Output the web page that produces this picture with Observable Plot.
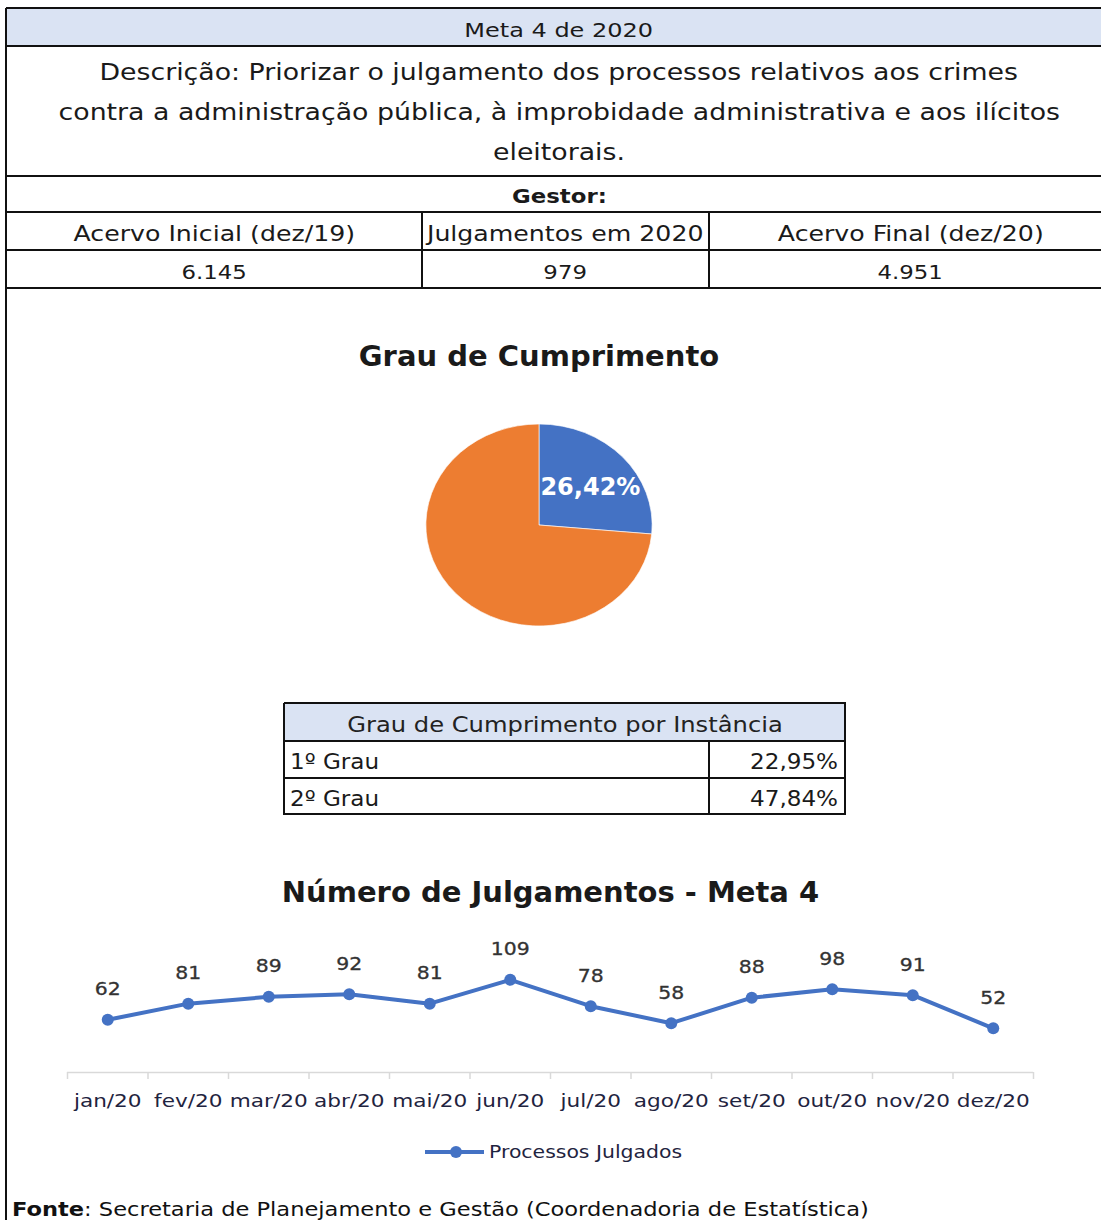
<!DOCTYPE html>
<html><head><meta charset="utf-8">
<script src="https://cdn.jsdelivr.net/npm/d3@7"></script>
<script src="https://cdn.jsdelivr.net/npm/@observablehq/plot@0.6"></script>
<style>
html,body{margin:0;padding:0;background:#fff;}
body{width:1101px;height:1220px;overflow:hidden;position:relative;font-family:"DejaVu Sans",sans-serif;color:#1a1a1a;}
.abs{position:absolute;box-sizing:border-box;}
.cell{position:absolute;box-sizing:border-box;display:flex;align-items:center;justify-content:center;text-align:center;white-space:nowrap;}
.hl{position:absolute;background:#111;height:2px;}
.vl{position:absolute;background:#111;width:2px;}
.sx{display:inline-block;white-space:nowrap;}
</style></head>
<body>
<script>
// ---------- data ----------
const metaTitle = "Meta 4 de 2020";
const descricaoLinhas = [
  "Descrição: Priorizar o julgamento dos processos relativos aos crimes",
  "contra a administração pública, à improbidade administrativa e aos ilícitos",
  "eleitorais."
];
const gestor = "Gestor:";
const headLabels = ["Acervo Inicial (dez/19)", "Julgamentos em 2020", "Acervo Final (dez/20)"];
const headValues = ["6.145", "979", "4.951"];

const pieTitle = "Grau de Cumprimento";
const pieLabels = ["Cumprido", "Restante"];
const pieValues = [26.42, 73.58];
const pieColors = ["#4472c4", "#ed7d31"];

const instTitle = "Grau de Cumprimento por Instância";
const instancias = ["1º Grau", "2º Grau"];
const instValores = ["22,95%", "47,84%"];

const lineTitle = "Número de Julgamentos - Meta 4";
const meses = ["jan/20","fev/20","mar/20","abr/20","mai/20","jun/20","jul/20","ago/20","set/20","out/20","nov/20","dez/20"];
const julgados = [62, 81, 89, 92, 81, 109, 78, 58, 88, 98, 91, 52];
const serieNome = "Processos Julgados";
const fonteRotulo = "Fonte";
const fonte = "Secretaria de Planejamento e Gestão (Coordenadoria de Estatística)";

// ---------- layout helpers ----------
const root = document.body;
function el(tag, cls, style, html){const e=document.createElement(tag); if(cls) e.className=cls; Object.assign(e.style, style||{}); if(html!=null) e.innerHTML=html; root.appendChild(e); return e;}
function hline(x,y,w,t){el("div","hl",{left:x+"px",top:(y-1)+"px",width:w+"px",height:(t||2)+"px"});}
function vline(x,y,h,t){el("div","vl",{left:(x-1)+"px",top:y+"px",height:h+"px",width:(t||2)+"px"});}
function sx(html,k,origin){return `<span class="sx" style="transform:scaleX(${k});transform-origin:${origin||"center"}">${html}</span>`;}
function stretchSvgText(svg,k){
  svg.querySelectorAll("text").forEach(t=>{
    const x = +(t.getAttribute("x")||0);
    const tr = t.getAttribute("transform")||"";
    t.setAttribute("transform", `${tr} translate(${x} 0) scale(${k} 1) translate(${-x} 0)`);
  });
}

const RIGHT = 1112;
const K = 1.2;
// header block
el("div","abs",{left:"6px",top:"8px",width:(RIGHT-6)+"px",height:"38px",background:"#dae3f3"});
el("div","cell",{left:"6px",top:"11px",width:(RIGHT-6)+"px",height:"38px",fontSize:"20px"},sx(metaTitle,K));
descricaoLinhas.forEach((l,i)=>{
  el("div","cell",{left:"6px",top:(52+i*40)+"px",width:(RIGHT-6)+"px",height:"40px",fontSize:"22.3px"},sx(l,K));
});
el("div","cell",{left:"6px",top:"178px",width:(RIGHT-6)+"px",height:"36px",fontSize:"19px",fontWeight:"bold"},sx(gestor,K));
const cols=[6,422,709,RIGHT];
headLabels.forEach((t,i)=>{
  el("div","cell",{left:cols[i]+"px",top:"215px",width:(cols[i+1]-cols[i])+"px",height:"38px",fontSize:"21px"},sx(t,K));
  el("div","cell",{left:cols[i]+"px",top:"253px",width:(cols[i+1]-cols[i])+"px",height:"38px",fontSize:"19px"},sx(headValues[i],K));
});
[8,46,176,212,250,288].forEach(y=>hline(6,y,RIGHT-6));
vline(6,8,1212);
vline(422,212,76); vline(709,212,76);

// pie title
el("div","cell",{left:"0px",top:"334px",width:"1078px",height:"44px",fontSize:"29px",fontWeight:"bold"},pieTitle);

// pie chart via Plot custom render mark
const pieData = pieLabels.map((l,i)=>({label:l, value:pieValues[i], color:pieColors[i]}));
const piePlot = Plot.plot({
  width:1101, height:280, margin:0,
  x:{domain:[0,1101], axis:null}, y:{domain:[0,280], axis:null},
  style:{background:"transparent", overflow:"visible"},
  marks:[
    (index, scales, values, dims) => {
      const cx = scales.x(539), cy = scales.y(140);
      const R = 101, sxk = 1.12;
      const arcs = d3.pie().sort(null).value(d=>d.value)(pieData);
      const arc = d3.arc().innerRadius(0).outerRadius(R);
      const lab = d3.arc().innerRadius(0).outerRadius(R*1.16);
      const g = d3.create("svg:g").attr("transform",`translate(${cx},${cy})`);
      g.append("g").attr("transform",`scale(${sxk},1)`).selectAll("path").data(arcs).join("path")
        .attr("d",arc).attr("fill",d=>d.data.color).attr("stroke","#fff").attr("stroke-width",0.6);
      const a = arcs[0]; const c = lab.centroid(a);
      g.append("text").attr("x",c[0]*sxk+3).attr("y",c[1]+2).attr("text-anchor","middle").attr("dominant-baseline","central")
        .attr("fill","#fff").attr("font-weight","bold").attr("font-size",24).attr("font-family","DejaVu Sans")
        .text(a.data.value.toFixed(2).replace(".",",")+"%");
      return g.node();
    }
  ]
});
const pieWrap = el("div","abs",{left:"0px",top:"385px",width:"1101px",height:"280px"});
pieWrap.appendChild(piePlot);

// instance table
const KT = 1.1;
el("div","abs",{left:"284px",top:"703px",width:"561px",height:"38px",background:"#dae3f3"});
el("div","cell",{left:"284px",top:"705px",width:"561px",height:"38px",fontSize:"22px",color:"#222"},sx(instTitle,KT));
instancias.forEach((t,i)=>{
  const top = 743 + i*37;
  el("div","cell",{left:"290px",top:top+"px",width:"400px",height:"37px",fontSize:"21px",justifyContent:"flex-start"},sx(t,KT,"left"));
  el("div","cell",{left:"700px",top:top+"px",width:"138px",height:"37px",fontSize:"21px",justifyContent:"flex-end"},sx(instValores[i],KT,"right"));
});
[703,741,778,814].forEach(y=>hline(284,y,562));
vline(284,703,112); vline(845,703,112); vline(709,741,74);

// line chart title
el("div","cell",{left:"0px",top:"870px",width:"1101px",height:"44px",fontSize:"29px",fontWeight:"bold"},lineTitle);

// line chart
const lineData = meses.map((m,i)=>({i:i+1, mes:m, v:julgados[i]}));
const linePlot = Plot.plot({
  width:1101, height:190, marginLeft:67, marginRight:68, marginTop:40, marginBottom:48,
  x:{type:"linear", domain:[0.5,12.5], axis:null},
  y:{domain:[0,120], axis:null},
  style:{background:"transparent", overflow:"visible", fontFamily:"DejaVu Sans"},
  marks:[
    Plot.ruleY([0],{stroke:"#d9d9d9", strokeWidth:1.5}),
    Plot.axisX(d3.range(0.5,13,1),{tickSize:7, tickFormat:()=>"", label:null, stroke:"#d9d9d9", strokeWidth:1.5}),
    Plot.axisX(d3.range(1,13),{tickSize:0, tickPadding:22, label:null, tickFormat:d=>meses[d-1], fontSize:18, fill:"#1f2440"}),
    Plot.line(lineData,{x:"i", y:"v", stroke:"#4472c4", strokeWidth:4}),
    Plot.dot(lineData,{x:"i", y:"v", r:6, fill:"#4472c4", stroke:"none"}),
    Plot.text(lineData,{x:"i", y:"v", text:d=>String(d.v), dy:-30, fontSize:17, fill:"#333", stroke:"#333", strokeWidth:0.3})
  ]
});
stretchSvgText(linePlot, K);
const lineWrap = el("div","abs",{left:"0px",top:"930px",width:"1101px",height:"190px"});
lineWrap.appendChild(linePlot);

// legend
el("div","abs",{left:"424px",top:"1138px",height:"28px",display:"flex",alignItems:"center",fontSize:"17px",color:"#1f2440",whiteSpace:"nowrap"},
  `<svg width="62" height="14" style="margin-right:3px"><line x1="1" y1="7" x2="60" y2="7" stroke="#4472c4" stroke-width="4"/><circle cx="32" cy="7" r="6" fill="#4472c4"/></svg>${sx(serieNome,K,"left")}`);

// footer
el("div","abs",{left:"12px",top:"1199px",fontSize:"18.8px",whiteSpace:"nowrap",color:"#111"},sx(`<b>${fonteRotulo}</b>: ${fonte}`,K,"left"));
</script>
</body></html>
